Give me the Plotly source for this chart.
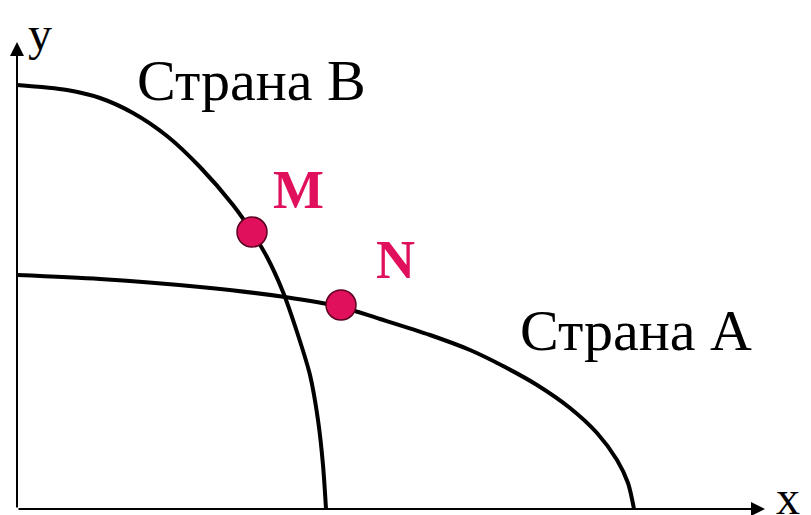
import plotly.graph_objects as go

# curve of country B (x, y)
country_b_x = [0, 50, 83, 116, 150, 183, 216, 235, 250, 266, 280, 293, 301, 306, 309]
country_b_y = [424, 419, 411, 396, 373, 342, 304, 277, 252, 217, 177, 134, 89, 44, 0]

# curve of country A
country_a_x = [0, 83, 183, 268, 324, 363, 413, 453, 486, 520, 553, 580, 600, 611, 617]
country_a_y = [234, 230, 222, 212, 202, 190, 174, 159, 143, 124, 101, 76, 49, 26, 0]

# points M and N
point_names = ["M", "N"]
point_x = [235, 324]
point_y = [277, 204]

BLACK = "#000000"
PINK = "#E0105C"
SERIF = "Liberation Serif, Times New Roman, serif"

fig = go.Figure()

fig.add_trace(go.Scatter(x=country_b_x, y=country_b_y, mode="lines",
                         line=dict(color=BLACK, width=4, shape="spline", smoothing=0.8),
                         showlegend=False, hoverinfo="skip"))
fig.add_trace(go.Scatter(x=country_a_x, y=country_a_y, mode="lines",
                         line=dict(color=BLACK, width=4, shape="spline", smoothing=0.8),
                         showlegend=False, hoverinfo="skip"))
fig.add_trace(go.Scatter(x=point_x, y=point_y, mode="markers",
                         marker=dict(size=30, color=PINK, line=dict(color="#5a0020", width=1.5)),
                         showlegend=False, hoverinfo="skip"))

# axes with arrows
fig.add_annotation(x=0, y=467, ax=0, ay=0, xref="x", yref="y", axref="x", ayref="y",
                   showarrow=True, arrowhead=2, arrowsize=1.4, arrowwidth=2, arrowcolor=BLACK, text="")
fig.add_annotation(x=748, y=0, ax=0, ay=0, xref="x", yref="y", axref="x", ayref="y",
                   showarrow=True, arrowhead=2, arrowsize=1.4, arrowwidth=2, arrowcolor=BLACK, text="")

fig.add_annotation(x=23, y=476, text="y", showarrow=False, borderpad=0,
                   font=dict(family=SERIF, size=48, color=BLACK))
fig.add_annotation(x=771, y=12, text="x", showarrow=False, borderpad=0,
                   font=dict(family=SERIF, size=48, color=BLACK))

fig.add_annotation(x=234, y=429, text="Страна В", showarrow=False,
                   font=dict(family=SERIF, size=58, color=BLACK))
fig.add_annotation(x=619, y=179, text="Страна А", showarrow=False,
                   font=dict(family=SERIF, size=58, color=BLACK))

fig.add_annotation(x=281, y=319, text="<b>" + point_names[0] + "</b>", showarrow=False,
                   font=dict(family=SERIF, size=54, color=PINK))
fig.add_annotation(x=378, y=249, text="<b>" + point_names[1] + "</b>", showarrow=False,
                   font=dict(family=SERIF, size=54, color=PINK))

fig.update_xaxes(range=[-9, 802], visible=False, fixedrange=True)
fig.update_yaxes(range=[-14, 501], visible=False, fixedrange=True)
fig.update_layout(width=811, height=515, margin=dict(l=0, r=0, t=0, b=0),
                  plot_bgcolor="white", paper_bgcolor="white")

fig.write_html("out.html")
